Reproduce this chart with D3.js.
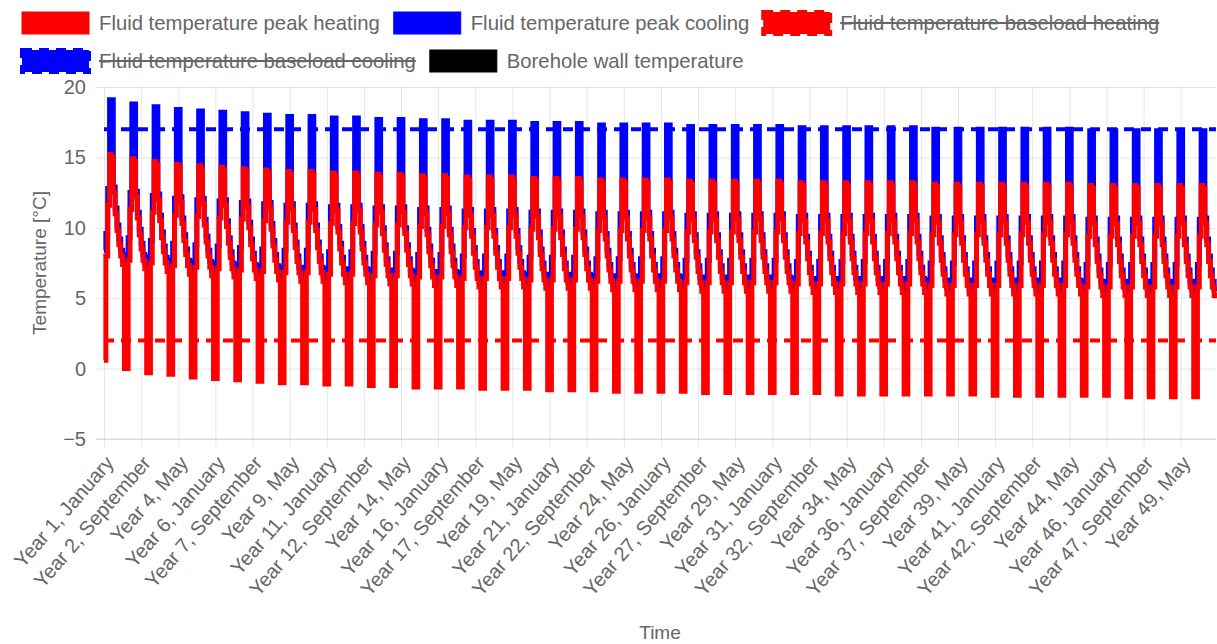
<!DOCTYPE html>
<html>
<head>
<meta charset="utf-8">
<script src="https://cdn.jsdelivr.net/npm/d3@7"></script>
<style>
  body { margin: 0; background: #fff; }
  svg text { font-family: "Liberation Sans", Arial, Helvetica, sans-serif; fill: #666; }
</style>
</head>
<body>
<svg id="chart" width="1217" height="644"></svg>
<script>
// Month names, used to build the "Year N, Month" category labels
const monthNames = ["January", "February", "March", "April", "May", "June",
  "July", "August", "September", "October", "November", "December"];
const yearCount = 50;

// y axis ticks
const yTicks = [-5, 0, 5, 10, 15, 20];

// Fluid temperature peak cooling, one row per year (January .. December)
const peakCooling = [
  8.4, 9.6, 12.8, 19.1, 19.1, 12.9, 11.4, 10.2, 9.2, 8.4, 7.8, 7.7,
  8.1, 9.3, 12.5, 18.8, 18.8, 12.6, 11.1, 9.9, 8.9, 8.1, 7.5, 7.4,
  7.9, 9.1, 12.3, 18.6, 18.6, 12.4, 10.9, 9.7, 8.7, 7.9, 7.3, 7.2,
  7.7, 8.9, 12.1, 18.4, 18.4, 12.2, 10.7, 9.5, 8.5, 7.7, 7.1, 7.0,
  7.6, 8.8, 12.0, 18.3, 18.3, 12.1, 10.6, 9.4, 8.4, 7.6, 7.0, 6.9,
  7.5, 8.7, 11.9, 18.2, 18.2, 12.0, 10.5, 9.3, 8.3, 7.5, 6.9, 6.8,
  7.4, 8.6, 11.8, 18.1, 18.1, 11.9, 10.4, 9.2, 8.2, 7.4, 6.8, 6.7,
  7.3, 8.5, 11.7, 18.0, 18.0, 11.8, 10.3, 9.1, 8.1, 7.3, 6.7, 6.6,
  7.2, 8.4, 11.6, 17.9, 17.9, 11.7, 10.2, 9.0, 8.0, 7.2, 6.6, 6.5,
  7.2, 8.4, 11.6, 17.9, 17.9, 11.7, 10.2, 9.0, 8.0, 7.2, 6.6, 6.5,
  7.1, 8.3, 11.5, 17.8, 17.8, 11.6, 10.1, 8.9, 7.9, 7.1, 6.5, 6.4,
  7.1, 8.3, 11.5, 17.8, 17.8, 11.6, 10.1, 8.9, 7.9, 7.1, 6.5, 6.4,
  7.0, 8.2, 11.4, 17.7, 17.7, 11.5, 10.0, 8.8, 7.8, 7.0, 6.4, 6.3,
  7.0, 8.2, 11.4, 17.7, 17.7, 11.5, 10.0, 8.8, 7.8, 7.0, 6.4, 6.3,
  6.9, 8.1, 11.3, 17.6, 17.6, 11.4, 9.9, 8.7, 7.7, 6.9, 6.3, 6.2,
  6.9, 8.1, 11.3, 17.6, 17.6, 11.4, 9.9, 8.7, 7.7, 6.9, 6.3, 6.2,
  6.8, 8.0, 11.2, 17.5, 17.5, 11.3, 9.8, 8.6, 7.6, 6.8, 6.2, 6.1,
  6.8, 8.0, 11.2, 17.5, 17.5, 11.3, 9.8, 8.6, 7.6, 6.8, 6.2, 6.1,
  6.8, 8.0, 11.2, 17.5, 17.5, 11.3, 9.8, 8.6, 7.6, 6.8, 6.2, 6.1,
  6.7, 7.9, 11.1, 17.4, 17.4, 11.2, 9.7, 8.5, 7.5, 6.7, 6.1, 6.0,
  6.7, 7.9, 11.1, 17.4, 17.4, 11.2, 9.7, 8.5, 7.5, 6.7, 6.1, 6.0,
  6.7, 7.9, 11.1, 17.4, 17.4, 11.2, 9.7, 8.5, 7.5, 6.7, 6.1, 6.0,
  6.6, 7.8, 11.0, 17.3, 17.3, 11.1, 9.6, 8.4, 7.4, 6.6, 6.0, 5.9,
  6.6, 7.8, 11.0, 17.3, 17.3, 11.1, 9.6, 8.4, 7.4, 6.6, 6.0, 5.9,
  6.6, 7.8, 11.0, 17.3, 17.3, 11.1, 9.6, 8.4, 7.4, 6.6, 6.0, 5.9,
  6.6, 7.8, 11.0, 17.3, 17.3, 11.1, 9.6, 8.4, 7.4, 6.6, 6.0, 5.9,
  6.5, 7.7, 10.9, 17.2, 17.2, 11.0, 9.5, 8.3, 7.3, 6.5, 5.9, 5.8,
  6.5, 7.7, 10.9, 17.2, 17.2, 11.0, 9.5, 8.3, 7.3, 6.5, 5.9, 5.8,
  6.5, 7.7, 10.9, 17.2, 17.2, 11.0, 9.5, 8.3, 7.3, 6.5, 5.9, 5.8,
  6.5, 7.7, 10.9, 17.2, 17.2, 11.0, 9.5, 8.3, 7.3, 6.5, 5.9, 5.8,
  6.5, 7.7, 10.9, 17.2, 17.2, 11.0, 9.5, 8.3, 7.3, 6.5, 5.9, 5.8,
  6.4, 7.6, 10.8, 17.1, 17.1, 10.9, 9.4, 8.2, 7.2, 6.4, 5.8, 5.7,
  6.4, 7.6, 10.8, 17.1, 17.1, 10.9, 9.4, 8.2, 7.2, 6.4, 5.8, 5.7,
  6.4, 7.6, 10.8, 17.1, 17.1, 10.9, 9.4, 8.2, 7.2, 6.4, 5.8, 5.7,
  6.4, 7.6, 10.8, 17.1, 17.1, 10.9, 9.4, 8.2, 7.2, 6.4, 5.8, 5.7,
  6.4, 7.6, 10.8, 17.1, 17.1, 10.9, 9.4, 8.2, 7.2, 6.4, 5.8, 5.7,
  6.4, 7.6, 10.8, 17.1, 17.1, 10.9, 9.4, 8.2, 7.2, 6.4, 5.8, 5.7,
  6.3, 7.5, 10.7, 17.0, 17.0, 10.8, 9.3, 8.1, 7.1, 6.3, 5.7, 5.6,
  6.3, 7.5, 10.7, 17.0, 17.0, 10.8, 9.3, 8.1, 7.1, 6.3, 5.7, 5.6,
  6.3, 7.5, 10.7, 17.0, 17.0, 10.8, 9.3, 8.1, 7.1, 6.3, 5.7, 5.6,
  6.3, 7.5, 10.7, 17.0, 17.0, 10.8, 9.3, 8.1, 7.1, 6.3, 5.7, 5.6,
  6.3, 7.5, 10.7, 17.0, 17.0, 10.8, 9.3, 8.1, 7.1, 6.3, 5.7, 5.6,
  6.3, 7.5, 10.7, 17.0, 17.0, 10.8, 9.3, 8.1, 7.1, 6.3, 5.7, 5.6,
  6.3, 7.5, 10.7, 17.0, 17.0, 10.8, 9.3, 8.1, 7.1, 6.3, 5.7, 5.6,
  6.2, 7.4, 10.6, 16.9, 16.9, 10.7, 9.2, 8.0, 7.0, 6.2, 5.6, 5.5,
  6.2, 7.4, 10.6, 16.9, 16.9, 10.7, 9.2, 8.0, 7.0, 6.2, 5.6, 5.5,
  6.2, 7.4, 10.6, 16.9, 16.9, 10.7, 9.2, 8.0, 7.0, 6.2, 5.6, 5.5,
  6.2, 7.4, 10.6, 16.9, 16.9, 10.7, 9.2, 8.0, 7.0, 6.2, 5.6, 5.5,
  6.2, 7.4, 10.6, 16.9, 16.9, 10.7, 9.2, 8.0, 7.0, 6.2, 5.6, 5.5,
  6.2, 7.4, 10.6, 16.9, 16.9, 10.7, 9.2, 8.0, 7.0, 6.2, 5.6, 5.5
];

// Fluid temperature peak heating, one row per year (January .. December)
const peakHeating = [
  0.6, 8.0, 11.6, 15.2, 15.0, 12.5, 11.0, 9.8, 8.8, 8.0, 7.4, 0.0,
  0.0, 7.7, 11.3, 14.9, 14.7, 12.2, 10.7, 9.5, 8.5, 7.7, 7.1, -0.3,
  -0.3, 7.5, 11.1, 14.7, 14.5, 12.0, 10.5, 9.3, 8.3, 7.5, 6.9, -0.4,
  -0.4, 7.3, 10.9, 14.5, 14.3, 11.8, 10.3, 9.1, 8.1, 7.3, 6.7, -0.6,
  -0.6, 7.2, 10.8, 14.4, 14.2, 11.7, 10.2, 9.0, 8.0, 7.2, 6.6, -0.7,
  -0.7, 7.1, 10.7, 14.3, 14.1, 11.6, 10.1, 8.9, 7.9, 7.1, 6.5, -0.8,
  -0.8, 7.0, 10.6, 14.2, 14.0, 11.5, 10.0, 8.8, 7.8, 7.0, 6.4, -0.9,
  -0.9, 6.9, 10.5, 14.1, 13.9, 11.4, 9.9, 8.7, 7.7, 6.9, 6.3, -1.0,
  -1.0, 6.8, 10.4, 14.0, 13.8, 11.3, 9.8, 8.6, 7.6, 6.8, 6.2, -1.0,
  -1.0, 6.8, 10.4, 14.0, 13.8, 11.3, 9.8, 8.6, 7.6, 6.8, 6.2, -1.1,
  -1.1, 6.7, 10.3, 13.9, 13.7, 11.2, 9.7, 8.5, 7.5, 6.7, 6.1, -1.1,
  -1.1, 6.7, 10.3, 13.9, 13.7, 11.2, 9.7, 8.5, 7.5, 6.7, 6.1, -1.2,
  -1.2, 6.6, 10.2, 13.8, 13.6, 11.1, 9.6, 8.4, 7.4, 6.6, 6.0, -1.2,
  -1.2, 6.6, 10.2, 13.8, 13.6, 11.1, 9.6, 8.4, 7.4, 6.6, 6.0, -1.3,
  -1.3, 6.5, 10.1, 13.7, 13.5, 11.0, 9.5, 8.3, 7.3, 6.5, 5.9, -1.3,
  -1.3, 6.5, 10.1, 13.7, 13.5, 11.0, 9.5, 8.3, 7.3, 6.5, 5.9, -1.3,
  -1.3, 6.4, 10.0, 13.6, 13.4, 10.9, 9.4, 8.2, 7.2, 6.4, 5.8, -1.4,
  -1.4, 6.4, 10.0, 13.6, 13.4, 10.9, 9.4, 8.2, 7.2, 6.4, 5.8, -1.4,
  -1.4, 6.4, 10.0, 13.6, 13.4, 10.9, 9.4, 8.2, 7.2, 6.4, 5.8, -1.4,
  -1.4, 6.3, 9.9, 13.5, 13.3, 10.8, 9.3, 8.1, 7.1, 6.3, 5.7, -1.5,
  -1.5, 6.3, 9.9, 13.5, 13.3, 10.8, 9.3, 8.1, 7.1, 6.3, 5.7, -1.5,
  -1.5, 6.3, 9.9, 13.5, 13.3, 10.8, 9.3, 8.1, 7.1, 6.3, 5.7, -1.5,
  -1.5, 6.2, 9.8, 13.4, 13.2, 10.7, 9.2, 8.0, 7.0, 6.2, 5.6, -1.6,
  -1.6, 6.2, 9.8, 13.4, 13.2, 10.7, 9.2, 8.0, 7.0, 6.2, 5.6, -1.6,
  -1.6, 6.2, 9.8, 13.4, 13.2, 10.7, 9.2, 8.0, 7.0, 6.2, 5.6, -1.6,
  -1.6, 6.2, 9.8, 13.4, 13.2, 10.7, 9.2, 8.0, 7.0, 6.2, 5.6, -1.6,
  -1.6, 6.1, 9.7, 13.3, 13.1, 10.6, 9.1, 7.9, 6.9, 6.1, 5.5, -1.7,
  -1.7, 6.1, 9.7, 13.3, 13.1, 10.6, 9.1, 7.9, 6.9, 6.1, 5.5, -1.7,
  -1.7, 6.1, 9.7, 13.3, 13.1, 10.6, 9.1, 7.9, 6.9, 6.1, 5.5, -1.7,
  -1.7, 6.1, 9.7, 13.3, 13.1, 10.6, 9.1, 7.9, 6.9, 6.1, 5.5, -1.7,
  -1.7, 6.1, 9.7, 13.3, 13.1, 10.6, 9.1, 7.9, 6.9, 6.1, 5.5, -1.7,
  -1.7, 6.0, 9.6, 13.2, 13.0, 10.5, 9.0, 7.8, 6.8, 6.0, 5.4, -1.7,
  -1.7, 6.0, 9.6, 13.2, 13.0, 10.5, 9.0, 7.8, 6.8, 6.0, 5.4, -1.8,
  -1.8, 6.0, 9.6, 13.2, 13.0, 10.5, 9.0, 7.8, 6.8, 6.0, 5.4, -1.8,
  -1.8, 6.0, 9.6, 13.2, 13.0, 10.5, 9.0, 7.8, 6.8, 6.0, 5.4, -1.8,
  -1.8, 6.0, 9.6, 13.2, 13.0, 10.5, 9.0, 7.8, 6.8, 6.0, 5.4, -1.8,
  -1.8, 6.0, 9.6, 13.2, 13.0, 10.5, 9.0, 7.8, 6.8, 6.0, 5.4, -1.8,
  -1.8, 5.9, 9.5, 13.1, 12.9, 10.4, 8.9, 7.7, 6.7, 5.9, 5.3, -1.8,
  -1.8, 5.9, 9.5, 13.1, 12.9, 10.4, 8.9, 7.7, 6.7, 5.9, 5.3, -1.8,
  -1.8, 5.9, 9.5, 13.1, 12.9, 10.4, 8.9, 7.7, 6.7, 5.9, 5.3, -1.9,
  -1.9, 5.9, 9.5, 13.1, 12.9, 10.4, 8.9, 7.7, 6.7, 5.9, 5.3, -1.9,
  -1.9, 5.9, 9.5, 13.1, 12.9, 10.4, 8.9, 7.7, 6.7, 5.9, 5.3, -1.9,
  -1.9, 5.9, 9.5, 13.1, 12.9, 10.4, 8.9, 7.7, 6.7, 5.9, 5.3, -1.9,
  -1.9, 5.9, 9.5, 13.1, 12.9, 10.4, 8.9, 7.7, 6.7, 5.9, 5.3, -1.9,
  -1.9, 5.8, 9.4, 13.0, 12.8, 10.3, 8.8, 7.6, 6.6, 5.8, 5.2, -1.9,
  -1.9, 5.8, 9.4, 13.0, 12.8, 10.3, 8.8, 7.6, 6.6, 5.8, 5.2, -2.0,
  -2.0, 5.8, 9.4, 13.0, 12.8, 10.3, 8.8, 7.6, 6.6, 5.8, 5.2, -2.0,
  -2.0, 5.8, 9.4, 13.0, 12.8, 10.3, 8.8, 7.6, 6.6, 5.8, 5.2, -2.0,
  -2.0, 5.8, 9.4, 13.0, 12.8, 10.3, 8.8, 7.6, 6.6, 5.8, 5.2, -2.0,
  -2.0, 5.8, 9.4, 13.0, 12.8, 10.3, 8.8, 7.6, 6.6, 5.8, 5.2, 5.0
];

// dashed limit lines
const coolingLimit = 17;
const heatingLimit = 2;

// legend entries, two rows
const legendNames = ["Fluid temperature peak heating", "Fluid temperature peak cooling",
  "Fluid temperature baseload heating", "Fluid temperature baseload cooling",
  "Borehole wall temperature"];
const legendColors = ["#ff0000", "#0000ff", "#ff0000", "#0000ff", "#000000"];
const legendDashed = [false, false, true, true, false];
const legendHidden = [false, false, true, true, false];
const legendRows = [0, 0, 0, 1, 1];

// category labels
const labels = [];
for (let yr = 1; yr <= yearCount; yr++) {
  monthNames.forEach(m => labels.push("Year " + yr + ", " + m));
}
const tickLabels = labels.filter((d, i) => i % 20 === 0);

const plotLeft = 104, plotRight = 1216, plotTop = 87, plotBottom = 439;
const gridColor = "rgba(0,0,0,0.1)";
const lineW = 5;
const dash = "10,7";

const svg = d3.select("#chart");

const x = d3.scalePoint().domain(labels).range([plotLeft, plotRight]);
const y = d3.scaleLinear().domain([-5, 20]).range([plotBottom, plotTop]);

// y grid + labels
const yAxis = svg.append("g")
    .attr("transform", "translate(" + plotRight + ",0)")
    .call(d3.axisLeft(y).tickValues(yTicks).tickSize(plotRight - plotLeft + 8).tickPadding(10));
yAxis.select(".domain").remove();
yAxis.selectAll(".tick line").attr("stroke", gridColor);
yAxis.selectAll(".tick text")
    .style("font-size", "20px")
    .attr("fill", "#666");

// x grid + labels
const xAxis = svg.append("g")
    .attr("transform", "translate(0," + plotTop + ")")
    .call(d3.axisBottom(x).tickValues(tickLabels).tickSize(plotBottom - plotTop + 8));
xAxis.select(".domain").remove();
xAxis.selectAll(".tick line").attr("stroke", gridColor);
xAxis.selectAll(".tick text")
    .style("font-size", "20px")
    .attr("fill", "#666")
    .attr("text-anchor", "end")
    .attr("x", 0)
    .attr("y", 0)
    .attr("dy", "0.35em")
    .attr("transform", "translate(5," + (plotBottom - plotTop + 20) + ") rotate(-49)");

// bottom axis line
svg.append("line")
    .attr("x1", plotLeft - 8).attr("x2", plotRight)
    .attr("y1", plotBottom).attr("y2", plotBottom)
    .attr("stroke", gridColor);

// axis titles
svg.append("text")
    .attr("transform", "translate(39," + ((plotTop + plotBottom) / 2) + ") rotate(-90)")
    .attr("text-anchor", "middle")
    .attr("dy", "0.35em")
    .style("font-size", "19px")
    .text("Temperature [°C]");

svg.append("text")
    .attr("x", (plotLeft + plotRight) / 2)
    .attr("y", 632)
    .attr("text-anchor", "middle")
    .attr("dy", "0.35em")
    .style("font-size", "19px")
    .text("Time");

// clip to chart area (plus half a line width)
svg.append("clipPath").attr("id", "area")
  .append("rect")
    .attr("x", plotLeft - 3).attr("y", plotTop - 3)
    .attr("width", plotRight - plotLeft + 6).attr("height", plotBottom - plotTop + 6);

const plot = svg.append("g").attr("clip-path", "url(#area)");

const line = d3.line()
    .x((d, i) => x(labels[i]))
    .y(d => y(d))
    .curve(d3.curveStepAfter);

// dashed limit lines
[[coolingLimit, "#0000ff"], [heatingLimit, "#ff0000"]].forEach(([v, c]) => {
  plot.append("line")
      .attr("x1", x(labels[0])).attr("x2", x(labels[labels.length - 1]))
      .attr("y1", y(v)).attr("y2", y(v))
      .attr("stroke", c)
      .attr("stroke-width", 4)
      .attr("stroke-dasharray", dash);
});

plot.append("path")
    .datum(peakCooling)
    .attr("d", line)
    .attr("fill", "none")
    .attr("stroke", "#0000ff")
    .attr("stroke-width", lineW);

plot.append("path")
    .datum(peakHeating)
    .attr("d", line)
    .attr("fill", "none")
    .attr("stroke", "#ff0000")
    .attr("stroke-width", lineW);

// legend
const rowStart = [22, 22];
const rowY = [23, 61];
const boxW = 67, boxH = 22;
const textGap = 10;
const cursor = rowStart.slice();
legendNames.forEach((name, i) => {
  const r = legendRows[i];
  const bx = cursor[r];
  const g = svg.append("g");
  g.append("rect")
      .attr("x", bx).attr("y", rowY[r] - boxH / 2)
      .attr("width", boxW).attr("height", boxH)
      .attr("fill", legendColors[i])
      .attr("stroke", legendColors[i])
      .attr("stroke-width", legendDashed[i] ? 4 : 1)
      .attr("stroke-dasharray", legendDashed[i] ? dash : null);
  const tx = bx + boxW + textGap;
  const t = g.append("text")
      .attr("x", tx)
      .attr("y", rowY[r])
      .attr("dy", "0.35em")
      .style("font-size", "20.3px")
      .text(name);
  const w = t.node().getComputedTextLength();
  if (legendHidden[i]) {
    g.append("line")
        .attr("x1", tx).attr("x2", tx + w)
        .attr("y1", rowY[r]).attr("y2", rowY[r])
        .attr("stroke", "#666").attr("stroke-width", 2);
  }
  cursor[r] = tx + w + 14;
});
</script>
</body>
</html>
